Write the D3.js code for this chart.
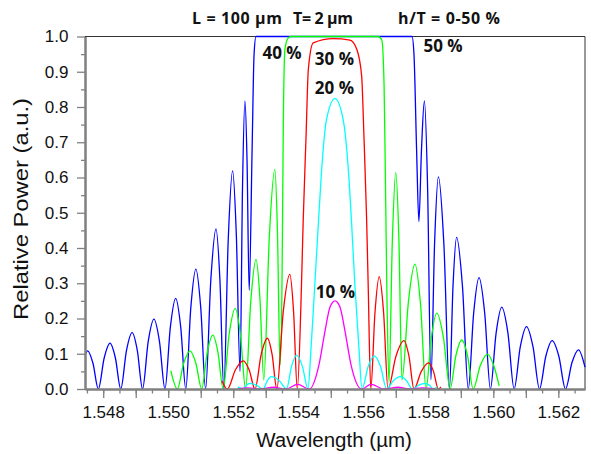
<!DOCTYPE html>
<html>
<head>
<meta charset="utf-8">
<script src="https://cdn.jsdelivr.net/npm/d3@7"></script>
<style>
  html, body { margin: 0; padding: 0; background: #fff; }
  svg { display: block; }
</style>
</head>
<body>
<svg id="chart" width="591" height="454"></svg>
<script>
// wavelength (um) / relative power pairs:
// nulls, peaks and a mid-flank reading for each side lobe
const blue50 = [
  [1.54744, 0.096], [1.54752, 0.108], [1.547685, 0.073], [1.54785, 0], [1.54803, 0.088],
  [1.54821, 0.130], [1.548375, 0.088], [1.54854, 0], [1.548715, 0.109], [1.54889, 0.160],
  [1.54905, 0.109], [1.54921, 0], [1.549385, 0.135], [1.54956, 0.198], [1.54973, 0.135],
  [1.54990, 0], [1.550065, 0.175], [1.55023, 0.257], [1.550385, 0.175], [1.55054, 0],
  [1.550695, 0.231], [1.55085, 0.340], [1.5510, 0.231], [1.55115, 0], [1.55131, 0.309],
  [1.55147, 0.454], [1.55159, 0.309], [1.55171, 0], [1.551845, 0.421], [1.55198, 0.619],
  [1.552095, 0.437], [1.55221, 0.05], [1.552285, 0.572], [1.55236, 0.817], [1.552425, 0.645],
  [1.55249, 0.28], [1.55258, 0.678], [1.55264, 0.948], [1.55270, 1.0], [1.55750, 1.0],
  [1.55756, 0.948], [1.55764, 0.678], [1.55771, 0.475], [1.55779, 0.678], [1.55788, 0.817],
  [1.55798, 0.564], [1.55808, 0.026], [1.558195, 0.418], [1.55831, 0.602], [1.55848, 0.409],
  [1.55865, 0], [1.55876, 0.292], [1.55887, 0.430], [1.55905, 0.292], [1.55923, 0],
  [1.559395, 0.215], [1.55956, 0.316], [1.559735, 0.215], [1.55991, 0], [1.560085, 0.158],
  [1.56026, 0.232], [1.56045, 0.158], [1.56064, 0], [1.56083, 0.120], [1.56102, 0.177],
  [1.56122, 0.120], [1.56142, 0], [1.561615, 0.093], [1.56181, 0.137], [1.562015, 0.093],
  [1.56222, 0], [1.56242, 0.075], [1.56262, 0.111], [1.56282, 0.062]
];
const green40 = [
  [1.55008, 0.052], [1.55028, 0], [1.550475, 0.073], [1.55067, 0.108], [1.55085, 0.073],
  [1.55103, 0], [1.5512, 0.104], [1.55137, 0.153], [1.55153, 0.104], [1.55169, 0],
  [1.551875, 0.156], [1.55206, 0.229], [1.55222, 0.156], [1.55238, 0], [1.55254, 0.250],
  [1.55270, 0.368], [1.55282, 0.259], [1.55294, 0.026], [1.55311, 0.432], [1.55328, 0.623],
  [1.55336, 0.445], [1.55344, 0.068], [1.55350, 0.30], [1.55354, 0.75], [1.55359, 0.964],
  [1.55369, 0.996], [1.55378, 1.0], [1.55645, 1.0], [1.55657, 0.99], [1.55664, 0.86],
  [1.55668, 0.6], [1.55673, 0.25], [1.55679, 0.02], [1.556895, 0.424], [1.55700, 0.614],
  [1.557095, 0.426], [1.55719, 0.026], [1.55739, 0.249], [1.55759, 0.354], [1.55776, 0.241],
  [1.55793, 0], [1.558095, 0.146], [1.55826, 0.215], [1.558465, 0.146], [1.55867, 0],
  [1.55885, 0.095], [1.55903, 0.139], [1.559205, 0.095], [1.55938, 0], [1.5596, 0.067],
  [1.55982, 0.099], [1.56000, 0.07], [1.56018, 0.009]
];
const red30 = [
  [1.55165, 0.023], [1.55182, 0], [1.552065, 0.054], [1.55231, 0.080], [1.55249, 0.054],
  [1.55267, 0], [1.55286, 0.098], [1.55305, 0.144], [1.553195, 0.098], [1.55334, 0],
  [1.55354, 0.221], [1.55374, 0.325], [1.553855, 0.221], [1.55397, 0], [1.55410, 0.298],
  [1.55415, 0.472], [1.55424, 0.718], [1.55431, 0.907], [1.55446, 0.982], [1.55508, 0.994],
  [1.55559, 0.99], [1.55580, 0.964], [1.55595, 0.888], [1.55602, 0.718], [1.55610, 0.491],
  [1.55615, 0.298], [1.55623, 0], [1.55636, 0.217], [1.55649, 0.319], [1.556625, 0.217],
  [1.55676, 0], [1.557005, 0.093], [1.55725, 0.137], [1.557405, 0.093], [1.55756, 0],
  [1.557785, 0.05], [1.55801, 0.074], [1.55816, 0.05], [1.55831, 0], [1.55839, 0.006]
];
const cyan20 = [
  [1.55214, 0.006], [1.55231, 0], [1.55241, 0.011], [1.55251, 0.016], [1.552715, 0.011],
  [1.55292, 0], [1.55305, 0.024], [1.55318, 0.035], [1.55341, 0.024], [1.55364, 0],
  [1.553795, 0.065], [1.55395, 0.096], [1.554125, 0.065], [1.55430, 0], [1.55439, 0.111],
  [1.55451, 0.297], [1.55462, 0.472], [1.55472, 0.623], [1.55487, 0.765], [1.55513, 0.824],
  [1.55538, 0.765], [1.55554, 0.623], [1.55564, 0.472], [1.55574, 0.297], [1.55587, 0.111],
  [1.55596, 0], [1.55615, 0.064], [1.55634, 0.094], [1.55653, 0.064], [1.55672, 0],
  [1.55693, 0.024], [1.55714, 0.035], [1.557325, 0.024], [1.55751, 0], [1.557705, 0.011],
  [1.55790, 0.016], [1.558025, 0.011], [1.55815, 0], [1.55827, 0.006]
];
const magenta10 = [
  [1.55214, 0], [1.55245, 0.003], [1.55282, 0], [1.55323, 0.005], [1.55362, 0],
  [1.55398, 0.013], [1.55434, 0], [1.55464, 0.07], [1.55482, 0.163], [1.55498, 0.233],
  [1.55513, 0.25], [1.55528, 0.233], [1.55544, 0.163], [1.55562, 0.07], [1.55595, 0],
  [1.55624, 0.013], [1.55664, 0], [1.55707, 0.005], [1.55744, 0], [1.55781, 0.003],
  [1.55818, 0]
];

const xTickLabels = ["1.548", "1.550", "1.552", "1.554", "1.556", "1.558", "1.560", "1.562"];
const yTickLabels = ["0.0", "0.1", "0.2", "0.3", "0.4", "0.5", "0.6", "0.7", "0.8", "0.9", "1.0"];

// curve name labels, anchored in data units
const curveLabels = [
  { text: "50 %", at: [1.55785, 0.957] },
  { text: "40 %", at: [1.55290, 0.937] },
  { text: "30 %", at: [1.55451, 0.918] },
  { text: "20 %", at: [1.55451, 0.836] },
  { text: "10 %", at: [1.55454, 0.259] }
];

const series = [
  { values: blue50, color: "#0000ff" },
  { values: green40, color: "#00ff00" },
  { values: red30, color: "#ff0000" },
  { values: cyan20, color: "#00ffff" },
  { values: magenta10, color: "#ff00ff" }
];

const svg = d3.select("#chart");
const plot = { left: 85, right: 585, top: 36.5, bottom: 389 };

const x = d3.scaleLinear().domain([1.54744, 1.56282]).range([plot.left, plot.right]);
const y = d3.scaleLinear().domain([0, 1]).range([plot.bottom, plot.top]);

// frame: top + right
svg.append("path")
  .attr("d", `M${plot.left},${plot.top}H${plot.right}V${plot.bottom}`)
  .attr("fill", "none")
  .attr("stroke", "#333")
  .attr("stroke-width", 1);

// curves
const line = d3.line()
  .x((d) => x(d[0]))
  .y((d) => y(d[1]))
  .curve(d3.curveMonotoneX);

svg.append("g")
  .selectAll("path")
  .data(series)
  .join("path")
  .attr("d", (d) => line(d.values))
  .attr("fill", "none")
  .attr("stroke", (d) => d.color)
  .attr("stroke-width", 1.3)
  .attr("stroke-linejoin", "round");

// axes
const xMinor = d3.range(0, 31).map((i) => 1.5475 + i * 0.0005);
const xMajor = d3.range(0, 15).map((i) => 1.548 + i * 0.001);
const yMinor = d3.range(0, 10).map((i) => 0.05 + i * 0.1);
const yMajor = d3.range(0, 11).map((i) => i * 0.1);

const tickFont = "Liberation Sans, Arial, sans-serif";

function styleAxis(g) {
  g.select(".domain").attr("stroke", "#808080").attr("stroke-width", 2);
  g.selectAll(".tick line").attr("stroke", "#808080").attr("stroke-width", 1.3);
  g.selectAll(".tick text")
    .attr("fill", "#111")
    .style("font-family", tickFont)
    .style("font-size", "17px");
}

svg.append("g")
  .attr("transform", `translate(0,${plot.bottom})`)
  .call(d3.axisBottom(x).tickValues(xMinor).tickSize(4.5).tickSizeOuter(0).tickFormat(""))
  .call(styleAxis);

svg.append("g")
  .attr("transform", `translate(0,${plot.bottom})`)
  .call(
    d3.axisBottom(x)
      .tickValues(xMajor)
      .tickSize(9)
      .tickSizeOuter(0)
      .tickPadding(8)
      .tickFormat((d) => {
        const s = d.toFixed(3);
        return xTickLabels.includes(s) ? s : "";
      })
  )
  .call(styleAxis);

svg.append("g")
  .attr("transform", `translate(${plot.left},0)`)
  .call(d3.axisLeft(y).tickValues(yMinor).tickSize(4).tickSizeOuter(0).tickFormat(""))
  .call(styleAxis);

svg.append("g")
  .attr("transform", `translate(${plot.left},0)`)
  .call(
    d3.axisLeft(y)
      .tickValues(yMajor)
      .tickSize(8)
      .tickSizeOuter(0)
      .tickPadding(8.5)
      .tickFormat((d, i) => yTickLabels[i])
  )
  .call(styleAxis);

// axis titles
svg.append("text")
  .attr("x", 334)
  .attr("y", 447)
  .attr("text-anchor", "middle")
  .attr("fill", "#111")
  .style("font-family", tickFont)
  .style("font-size", "20.5px")
  .text("Wavelength (\u00b5m)");

svg.append("text")
  .attr("transform", "translate(28,209) rotate(-90)")
  .attr("text-anchor", "middle")
  .attr("fill", "#111")
  .attr("textLength", 222)
  .attr("lengthAdjust", "spacingAndGlyphs")
  .style("font-family", tickFont)
  .style("font-size", "20.5px")
  .text("Relative Power (a.u.)");

// title pieces
const titleFont = "'Open Sans', 'Noto Sans', sans-serif";
const titleParts = [
  { text: "L = 100 \u00b5m", x: 192, w: 90 },
  { text: "T= 2 \u00b5m", x: 293, w: 60 },
  { text: "h/T = 0-50 %", x: 398, w: 102 }
];
svg.append("g")
  .selectAll("text")
  .data(titleParts)
  .join("text")
  .attr("x", (d) => d.x)
  .attr("y", 24)
  .attr("textLength", (d) => d.w)
  .attr("lengthAdjust", "spacing")
  .attr("fill", "#111")
  .style("font-family", titleFont)
  .style("font-weight", "bold")
  .style("font-size", "16px")
  .text((d) => d.text);

// curve labels
svg.append("g")
  .selectAll("text")
  .data(curveLabels)
  .join("text")
  .attr("x", (d) => x(d.at[0]))
  .attr("y", (d) => y(d.at[1]))
  .attr("fill", "#111")
  .style("font-family", titleFont)
  .style("font-weight", "bold")
  .style("font-size", "17px")
  .text((d) => d.text);
</script>
</body>
</html>
